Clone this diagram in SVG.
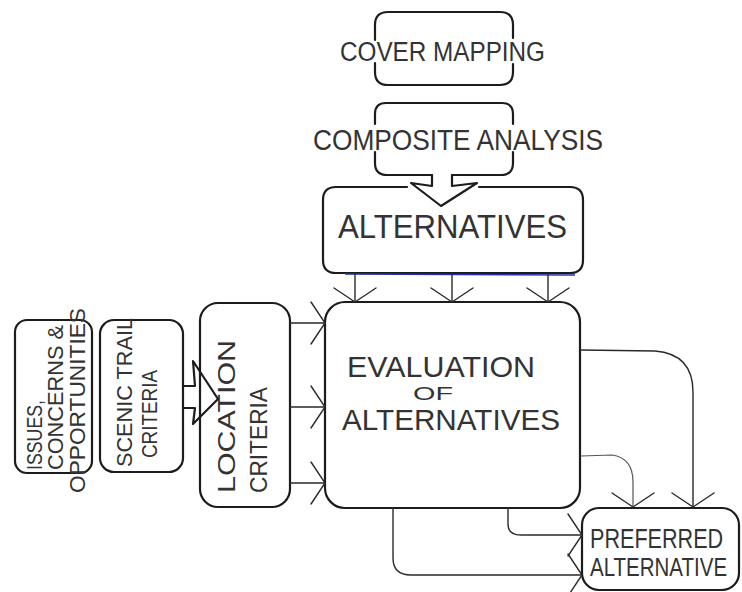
<svg xmlns="http://www.w3.org/2000/svg" width="742" height="592" viewBox="0 0 742 592">
<style>
.box{fill:none;stroke:#1c1c1c;stroke-width:2.2;stroke-linecap:round;stroke-linejoin:round}
.con{fill:none;stroke:#2a2a2a;stroke-width:1.4;stroke-linecap:round}
.lt{stroke:#555;stroke-width:1.2}
.t{font-family:"Liberation Sans",Arial,sans-serif;fill:#333333}
</style>
<defs>
<marker id="ah" markerUnits="userSpaceOnUse" viewBox="-20 -25 40 50" markerWidth="40" markerHeight="50" refX="0" refY="0" orient="auto" overflow="visible">
<path d="M-14,-21 L0,0 L-14,21" fill="none" stroke="#2a2a2a" stroke-width="1.4" stroke-linecap="round"/>
</marker>
</defs>
<rect width="742" height="592" fill="#ffffff"/>

<g id="cover-mapping">
<path class="box" d="M375,40 L375,25 Q375,12 388,12 L500,12 Q513,12 513,25 L513,38 M375,63 L375,72 Q375,85 388,85 L500,85 Q513,85 513,72 L513,64"/>
<text class="t" x="340" y="61" font-size="27" textLength="205" lengthAdjust="spacingAndGlyphs">COVER MAPPING</text>
</g>

<g id="composite-analysis">
<path class="box" d="M375,124 L375,114 Q375,103 386,103 L502,103 Q513,103 513,114 L513,124 M375,152 L375,163 Q375,175 387,175 L432,175 M452,175 L501,175 Q513,175 513,163 L513,152"/>
<text class="t" x="313" y="150" font-size="30" textLength="290" lengthAdjust="spacingAndGlyphs">COMPOSITE ANALYSIS</text>
</g>

<g id="alternatives">
<path class="box" d="M407,187 L336,187 Q323,187 323,200 L323,260 Q323,273 336,273 L570,273 Q583,273 583,260 L583,200 Q583,187 570,187 L479,187"/>
<path d="M345,274 L575,275" stroke="#2630b0" stroke-width="1.6" fill="none"/>
<text class="t" x="338" y="238" font-size="34" textLength="229" lengthAdjust="spacingAndGlyphs">ALTERNATIVES</text>
</g>

<g id="evaluation">
<rect class="box" x="325" y="302" width="255" height="206" rx="20"/>
<text class="t" x="347" y="377" font-size="29" textLength="188" lengthAdjust="spacingAndGlyphs">EVALUATION</text>
<text class="t" x="413" y="400" font-size="19" textLength="40" lengthAdjust="spacingAndGlyphs">OF</text>
<text class="t" x="342" y="430" font-size="30" textLength="218" lengthAdjust="spacingAndGlyphs">ALTERNATIVES</text>
</g>

<g id="issues">
<rect class="box" x="15" y="320" width="77" height="153" rx="12"/>
<text class="t" transform="translate(42,470) rotate(-90)" font-size="22" textLength="70" lengthAdjust="spacingAndGlyphs">ISSUES,</text>
<text class="t" transform="translate(63,470) rotate(-90)" font-size="22" textLength="145" lengthAdjust="spacingAndGlyphs">CONCERNS &amp;</text>
<text class="t" transform="translate(85,493) rotate(-90)" font-size="22" textLength="185" lengthAdjust="spacingAndGlyphs">OPPORTUNITIES</text>
</g>

<g id="scenic-trail">
<rect class="box" x="100" y="320" width="83" height="152" rx="14"/>
<text class="t" transform="translate(132,467) rotate(-90)" font-size="22" textLength="149" lengthAdjust="spacingAndGlyphs">SCENIC TRAIL</text>
<text class="t" transform="translate(157,458) rotate(-90)" font-size="22" textLength="88" lengthAdjust="spacingAndGlyphs">CRITERIA</text>
</g>

<g id="location">
<rect class="box" x="200" y="303" width="90" height="204" rx="18"/>
<text class="t" transform="translate(235,493) rotate(-90)" font-size="24" textLength="153" lengthAdjust="spacingAndGlyphs">LOCATION</text>
<text class="t" transform="translate(267,493) rotate(-90)" font-size="24" textLength="106" lengthAdjust="spacingAndGlyphs">CRITERIA</text>
</g>

<g id="preferred">
<rect class="box" x="582" y="508" width="157" height="82" rx="17"/>
<text class="t" transform="translate(590,548) scale(0.8,1)" font-size="27">PREFERRED</text>
<text class="t" transform="translate(590,576) scale(0.82,1)" font-size="25">ALTERNATIVE</text>
</g>

<g id="connectors">
<path class="box" d="M432,175 L432,186 L411,183 L441,206 L477,183 L452,186 L452,175"/>
<path class="box" d="M183,386 L195,386 L193,361 L218,399 L193,424 L195,408 L183,408"/>
<path class="con" d="M355,273 L355,302" marker-end="url(#ah)"/>
<path class="con" d="M452,273 L452,302" marker-end="url(#ah)"/>
<path class="con" d="M548,273 L548,302" marker-end="url(#ah)"/>
<path class="con" d="M290,323 L325,323" marker-end="url(#ah)"/>
<path class="con" d="M290,407 L325,407" marker-end="url(#ah)"/>
<path class="con" d="M290,483 L325,483" marker-end="url(#ah)"/>
<path class="con" d="M581,350 L655,351 Q693,354 693,392 L693,507" marker-end="url(#ah)"/>
<path class="con lt" d="M581,456 L612,455 Q633,458 633,482 L633,507" marker-end="url(#ah)"/>
<path class="con" d="M508,508 L508,524 Q508,535 521,535 L582,535" marker-end="url(#ah)"/>
<path class="con" d="M393,508 L393,558 Q393,575 411,575 L582,575" marker-end="url(#ah)"/>
</g>
</svg>
